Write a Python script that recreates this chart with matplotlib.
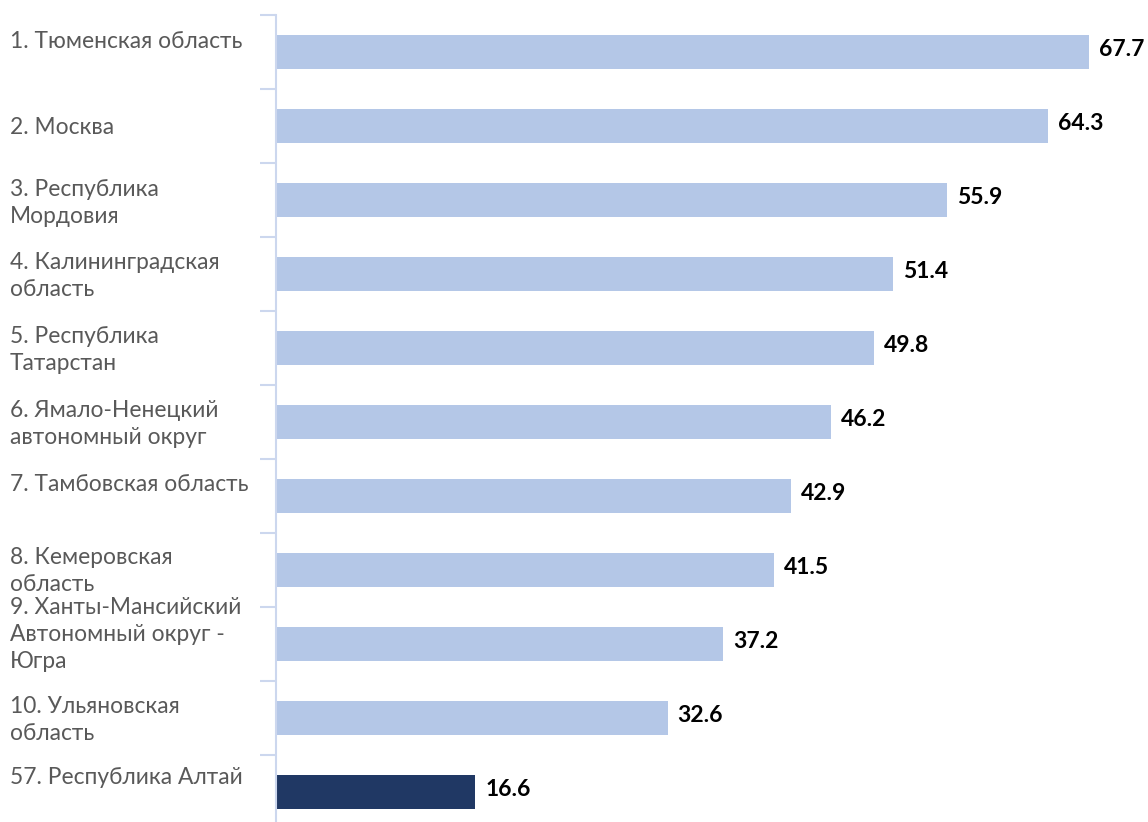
import matplotlib
matplotlib.use("Agg")
import matplotlib.pyplot as plt
import matplotlib.transforms as mtransforms

regions = [
    "1. Тюменская область",
    "2. Москва",
    "3. Республика\nМордовия",
    "4. Калининградская\nобласть",
    "5. Республика\nТатарстан",
    "6. Ямало-Ненецкий\nавтономный округ",
    "7. Тамбовская область",
    "8. Кемеровская\nобласть",
    "9. Ханты-Мансийский\nАвтономный округ -\nЮгра",
    "10. Ульяновская\nобласть",
    "57. Республика Алтай",
]
values = [67.7, 64.3, 55.9, 51.4, 49.8, 46.2, 42.9, 41.5, 37.2, 32.6, 16.6]
highlight = "57. Республика Алтай"

LIGHT = "#B4C7E7"
DARK = "#203864"
AXIS = "#CCD7EE"

W, H = 1148, 822
fig = plt.figure(figsize=(W / 100, H / 100), dpi=100)
ax_left = 276 / W
ax_top = 1 - 15 / H
ax_bottom = (H - 829) / H
ax = fig.add_axes([ax_left, ax_bottom, 1 - ax_left, ax_top - ax_bottom])

n = len(values)
ypos = list(range(n))
colors = [DARK if r == highlight else LIGHT for r in regions]
ax.barh(ypos, values, height=0.47, color=colors, zorder=2)
ax.set_xlim(0, (W - 276) / 12.01)
ax.set_ylim(n - 0.5, -0.5)

for s in ["top", "right", "bottom"]:
    ax.spines[s].set_visible(False)
ax.spines["left"].set_color(AXIS)
ax.spines["left"].set_linewidth(1.5)
ax.set_xticks([])
ax.set_yticks([])
ax.set_yticks([i - 0.5 for i in range(n + 1)], minor=True)
ax.tick_params(axis="y", which="minor", length=11.5, width=1.5, color=AXIS, labelleft=False)

for y, v in zip(ypos, values):
    ax.text(v + 10 / 12.01, y - 0.03, f"{v:.1f}", va="center", ha="left",
            fontsize=16.5, fontweight="bold", color="black", family="Lato")

# category labels, top-anchored near each category's top edge
offsets_px = [16, 28, 16, 15, 15, 15, 15, 14, -10, 15, 12]
blend = mtransforms.blended_transform_factory(fig.transFigure, ax.transData)
for i, (lab, off) in enumerate(zip(regions, offsets_px)):
    tr = mtransforms.offset_copy(blend, fig=fig, x=0, y=-off, units="dots")
    fig.text(10 / W, i - 0.5, lab, transform=tr, va="top", ha="left",
             fontsize=16.4, color="#595959", family="Lato", linespacing=1.35)

fig.savefig("out.png", dpi=100)
